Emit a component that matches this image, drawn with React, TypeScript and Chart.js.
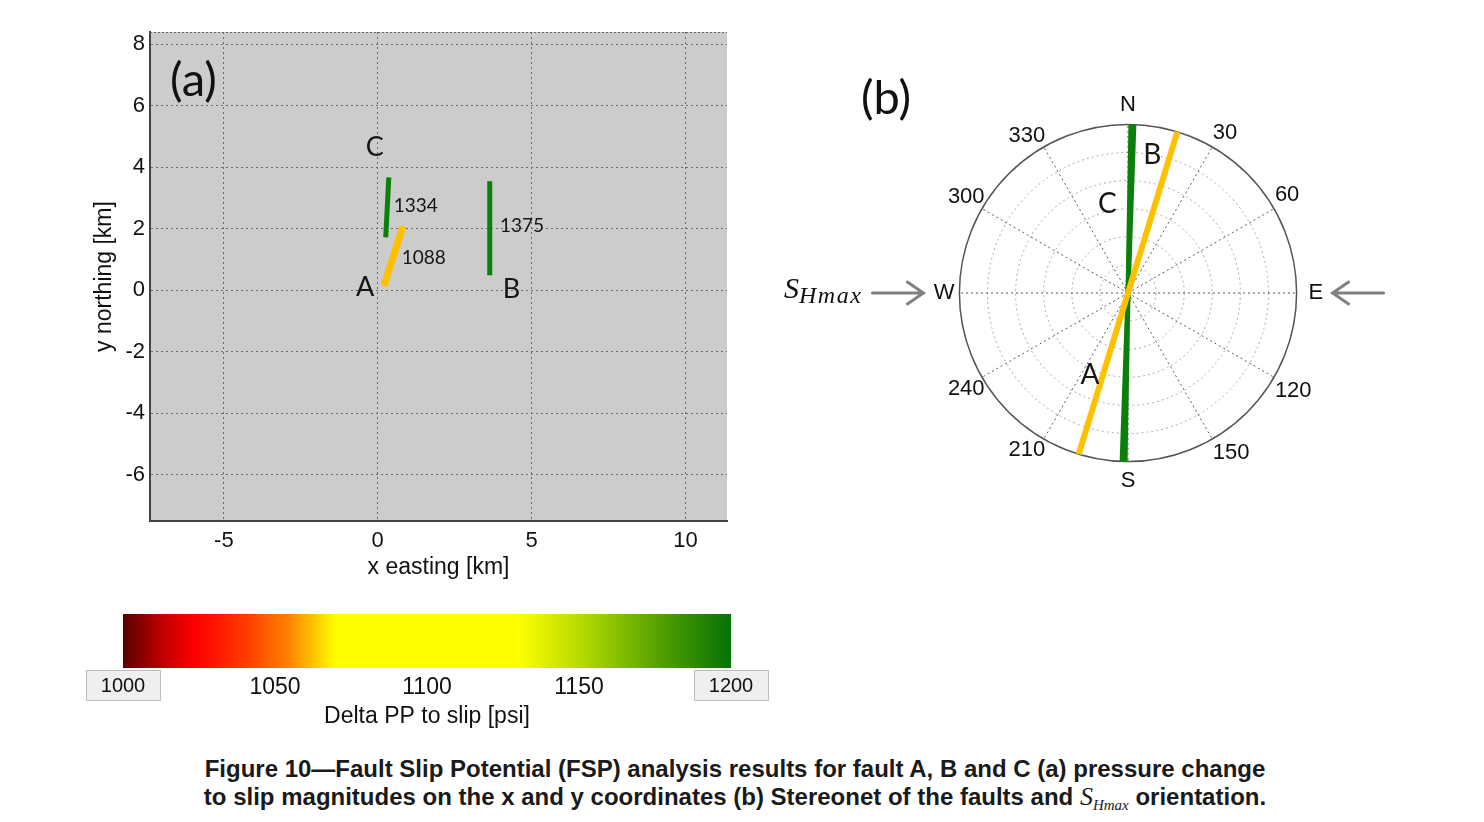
import React, { useEffect, useRef } from 'react';
import { Chart, registerables } from 'chart.js';

Chart.register(...registerables);

const SANS = '"Liberation Sans", Arial, Helvetica, sans-serif';
const CAL = 'Lato, "Open Sans", "Noto Sans", sans-serif';
const SERIF = '"Liberation Serif", "DejaVu Serif", serif';

// ---------- Panel (a): fault map ----------
const mapXRange = [-7.4, 11.35];
const mapYRange = [-7.5, 8.4];
const mapXStep = 5;
const mapYStep = 2;
const mapXTitle = 'x easting [km]';
const mapYTitle = 'y northing [km]';

const faultNames = ['A', 'B', 'C'];
const faultColors = ['#ffc000', '#0b7f0b', '#0b7f0b'];
const faultWidths = [7, 5, 5];
const faultAX = [0.2, 0.82];
const faultAY = [0.14, 2.08];
const faultBX = [3.64, 3.64];
const faultBY = [0.49, 3.55];
const faultCX = [0.26, 0.36];
const faultCY = [1.72, 3.67];

const mapLabelText = ['C', 'A', 'B', '1334', '1088', '1375'];
const mapLabelX = [-0.1, -0.41, 4.35, 0.52, 0.78, 3.97];
const mapLabelY = [4.65, 0.1, 0.03, 2.76, 1.07, 2.09];

// ---------- Panel (b): stereonet ----------
const polarTickLabels = ['N', '30', '60', 'E', '120', '150', 'S', '210', '240', 'W', '300', '330'];
const polarRings = 6;
const faultStrikes = [17, 1, 2]; // A, B, C (degrees from north)
const polarLabelText = ['B', 'C', 'A'];
const polarLabelAz = [10, 347, 205];
const polarLabelR = [5.0, 3.25, 3.2];

// ---------- Colorbar ----------
const cbRange = [1000, 1200];
const cbStep = 50;
const cbTitle = 'Delta PP to slip [psi]';
const cbStops: [number, string][] = [
  [0, '#5a0000'],
  [0.07, '#c80000'],
  [0.12, '#ff0000'],
  [0.2, '#ff3a00'],
  [0.27, '#ff8000'],
  [0.35, '#ffff00'],
  [0.65, '#ffff00'],
  [0.76, '#b0d800'],
  [0.88, '#55a200'],
  [1, '#057205'],
];

const mapPlugin = {
  id: 'mapDeco',
  beforeDraw(chart: any) {
    const { ctx, chartArea: ca } = chart;
    ctx.save();
    ctx.fillStyle = '#cccccc';
    ctx.fillRect(ca.left, ca.top, ca.right - ca.left, ca.bottom - ca.top);
    ctx.restore();
  },
  afterDraw(chart: any) {
    const { ctx, chartArea: ca } = chart;
    ctx.save();
    ctx.strokeStyle = '#666';
    ctx.lineWidth = 1;
    ctx.setLineDash([2, 2]);
    ctx.beginPath();
    ctx.moveTo(ca.left, ca.top + 0.5);
    ctx.lineTo(ca.right, ca.top + 0.5);
    ctx.stroke();
    ctx.setLineDash([]);
    const xs = chart.scales.x;
    const ys = chart.scales.y;
    ctx.fillStyle = '#151515';
    ctx.textBaseline = 'middle';
    mapLabelText.forEach((t, i) => {
      const isNum = /^\d+$/.test(t);
      ctx.font = isNum ? `19px ${CAL}` : `27px ${CAL}`;
      ctx.textAlign = isNum ? 'left' : 'center';
      ctx.fillText(t, xs.getPixelForValue(mapLabelX[i]), ys.getPixelForValue(mapLabelY[i]));
    });
    ctx.restore();
  },
};

const polarPlugin = {
  id: 'polarDeco',
  afterDraw(chart: any) {
    const { ctx } = chart;
    const r = chart.scales.r;
    const cx = r.xCenter;
    const cy = r.yCenter;
    const R = r.drawingArea;
    ctx.save();
    ctx.fillStyle = '#151515';
    ctx.font = `28px ${CAL}`;
    ctx.textAlign = 'center';
    ctx.textBaseline = 'middle';
    polarLabelText.forEach((t, i) => {
      const p = r.getPointPositionForValue(polarLabelAz[i], polarLabelR[i]);
      ctx.fillText(t, p.x, p.y);
    });
    // S_Hmax arrows
    ctx.strokeStyle = '#808080';
    ctx.lineWidth = 3;
    ctx.lineCap = 'round';
    const arrow = (tail: number, tip: number) => {
      const d = Math.sign(tip - tail);
      ctx.beginPath();
      ctx.moveTo(tail, cy);
      ctx.lineTo(tip, cy);
      ctx.moveTo(tip - d * 16, cy - 11);
      ctx.lineTo(tip, cy);
      ctx.lineTo(tip - d * 16, cy + 11);
      ctx.stroke();
    };
    arrow(cx - R - 87, cx - R - 36);
    arrow(cx + R + 87, cx + R + 36);
    ctx.restore();
  },
};

const cbPlugin = {
  id: 'cbBoxes',
  beforeDraw(chart: any) {
    const { ctx, chartArea: ca } = chart;
    const xs = chart.scales.x;
    ctx.save();
    ctx.fillStyle = '#efefef';
    ctx.strokeStyle = '#bdbdbd';
    ctx.lineWidth = 1;
    [cbRange[0], cbRange[1]].forEach((v) => {
      const px = xs.getPixelForValue(v);
      ctx.fillRect(px - 37, ca.bottom + 2, 74, 30);
      ctx.strokeRect(px - 37 + 0.5, ca.bottom + 2.5, 74, 30);
    });
    ctx.restore();
  },
};

export default function App() {
  const mapRef = useRef<HTMLCanvasElement>(null);
  const polarRef = useRef<HTMLCanvasElement>(null);
  const cbRef = useRef<HTMLCanvasElement>(null);

  useEffect(() => {
    const charts: Chart[] = [];
    const faultXs = [faultAX, faultBX, faultCX];
    const faultYs = [faultAY, faultBY, faultCY];

    charts.push(
      new Chart(mapRef.current as HTMLCanvasElement, {
        type: 'scatter',
        data: {
          datasets: faultNames.map((n, k) => ({
            label: n,
            data: faultXs[k].map((x, i) => ({ x, y: faultYs[k][i] })),
            showLine: true,
            borderColor: faultColors[k],
            backgroundColor: faultColors[k],
            borderWidth: faultWidths[k],
            pointRadius: 0,
            borderCapStyle: 'butt',
          })),
        },
        options: {
          responsive: false,
          animation: false,
          layout: { padding: { left: 90, top: 32, right: 33, bottom: 19 } },
          plugins: { legend: { display: false }, tooltip: { enabled: false } },
          scales: {
            x: {
              type: 'linear',
              min: mapXRange[0],
              max: mapXRange[1],
              afterFit: (s: any) => {
                s.height = 60;
              },
              ticks: { stepSize: mapXStep, includeBounds: false, padding: 7, color: '#111', font: { family: SANS, size: 22 } },
              grid: { color: '#6a6a6a', lineWidth: 1, drawTicks: false },
              border: { display: true, color: '#444', width: 2, dash: [2, 3] },
              title: { display: true, text: mapXTitle, color: '#111', font: { family: SANS, size: 23 }, padding: { top: 0, bottom: 0 } },
            },
            y: {
              type: 'linear',
              min: mapYRange[0],
              max: mapYRange[1],
              afterFit: (s: any) => {
                s.width = 60;
              },
              ticks: { stepSize: mapYStep, includeBounds: false, padding: 5, color: '#111', font: { family: SANS, size: 22 } },
              grid: { color: '#6a6a6a', lineWidth: 1, drawTicks: false },
              border: { display: true, color: '#444', width: 2, dash: [2, 3] },
              title: { display: true, text: mapYTitle, color: '#111', font: { family: SANS, size: 23 }, padding: { top: 1, bottom: 0 } },
            },
          },
        } as any,
        plugins: [mapPlugin],
      })
    );

    const azimuthDegrees = Array.from({ length: 360 }, (_, i) => i);
    charts.push(
      new Chart(polarRef.current as HTMLCanvasElement, {
        type: 'radar',
        data: {
          labels: azimuthDegrees,
          datasets: faultNames.map((n, k) => ({
            label: n,
            data: azimuthDegrees.map((a) =>
              a === faultStrikes[k] || a === (faultStrikes[k] + 180) % 360 ? polarRings : null
            ),
            borderColor: faultColors[k],
            backgroundColor: 'rgba(0,0,0,0)',
            borderWidth: k === 0 ? 6 : 5,
            pointRadius: 0,
            spanGaps: true,
            fill: false,
            tension: 0,
          })),
        },
        options: {
          responsive: false,
          animation: false,
          layout: { padding: 0 },
          plugins: { legend: { display: false }, tooltip: { enabled: false } },
          scales: {
            r: {
              min: 0,
              max: polarRings,
              startAngle: 0,
              ticks: { display: false, stepSize: 1 },
              grid: {
                circular: true,
                color: (c: any) => (c.index === polarRings ? '#555' : '#a8a8a8'),
                lineWidth: (c: any) => (c.index === polarRings ? 1.5 : 1),
              },
              border: { dash: (c: any) => (c.index === polarRings ? [] : [2, 3]) },
              angleLines: {
                color: (c: any) => (c.index % 30 === 0 ? '#5a5a5a' : 'rgba(0,0,0,0)'),
                lineWidth: (c: any) => (c.index % 30 === 0 ? 1 : 0),
                borderDash: [2, 3],
              },
              pointLabels: {
                callback: (_l: any, i: number) => (i % 30 === 0 ? polarTickLabels[i / 30] : ''),
                color: '#111',
                font: (c: any) => ({ family: SANS, size: 22 }),
                padding: (c: any) => {
                  const i = c.index;
                  if (i === 0 || i === 180) return 6;
                  if (i === 90) return 12;
                  if (i === 270) return 5;
                  if (i % 30 === 0 && (i > 180)) return -3;
                  return 1;
                },
              },
            },
          },
        } as any,
        plugins: [polarPlugin],
      })
    );

    charts.push(
      new Chart(cbRef.current as HTMLCanvasElement, {
        type: 'bar',
        data: {
          labels: [''],
          datasets: [
            {
              data: [[cbRange[0], cbRange[1]]],
              backgroundColor: (c: any) => {
                const ch = c.chart;
                const ca = ch.chartArea;
                if (!ca) return '#ffff00';
                const g = ch.ctx.createLinearGradient(ca.left, 0, ca.right, 0);
                cbStops.forEach(([o, col]) => g.addColorStop(o, col));
                return g;
              },
              borderWidth: 0,
              barPercentage: 1,
              categoryPercentage: 1,
            },
          ],
        },
        options: {
          indexAxis: 'y',
          responsive: false,
          animation: false,
          layout: { padding: { left: 63, right: 89, top: 14, bottom: 10 } },
          plugins: { legend: { display: false }, tooltip: { enabled: false } },
          scales: {
            x: {
              type: 'linear',
              min: cbRange[0],
              max: cbRange[1],
              afterFit: (s: any) => {
                s.height = 62;
              },
              ticks: {
                stepSize: cbStep,
                padding: 6,
                color: '#111',
                callback: (v: any) => String(v),
                font: (c: any) => ({
                  family: SANS,
                  size: c.tick && (c.tick.value === cbRange[0] || c.tick.value === cbRange[1]) ? 20 : 23,
                }),
              },
              grid: { display: false, drawTicks: false },
              border: { display: false },
              title: { display: true, text: cbTitle, color: '#111', font: { family: SANS, size: 23 }, padding: { top: 0, bottom: 0 } },
            },
            y: { display: false },
          },
        } as any,
        plugins: [cbPlugin],
      })
    );

    return () => charts.forEach((c) => c.destroy());
  }, []);

  return (
    <div style={{ position: 'fixed', left: 0, top: 0, width: 1484, height: 822, background: '#fff', overflow: 'hidden' }}>
      <canvas ref={mapRef} width={760} height={600} style={{ position: 'absolute', left: 0, top: 0 }} />
      <canvas ref={polarRef} width={704} height={402} style={{ position: 'absolute', left: 776, top: 92 }} />
      <canvas ref={cbRef} width={760} height={140} style={{ position: 'absolute', left: 60, top: 600 }} />
      <div style={{ position: 'absolute', left: 170, top: 53, font: `47px ${CAL}`, lineHeight: '50px', color: '#111' }}>(a)</div>
      <div style={{ position: 'absolute', left: 861, top: 71, font: `47px ${CAL}`, lineHeight: '50px', color: '#111' }}>(b)</div>
      <div style={{ position: 'absolute', left: 784, top: 272, fontFamily: SERIF, fontStyle: 'italic', color: '#111', whiteSpace: 'nowrap', lineHeight: '32px' }}>
        <span style={{ fontSize: 30 }}>S</span>
        <span style={{ fontSize: 24, position: 'relative', top: 5, letterSpacing: 1.5 }}>Hmax</span>
      </div>
      <div
        style={{
          position: 'absolute',
          left: 0,
          top: 755,
          width: 1470,
          textAlign: 'center',
          fontFamily: '"Liberation Sans Narrow", "Arial Narrow", "Liberation Sans", Arial, sans-serif',
          fontWeight: 'bold',
          fontSize: 24,
          lineHeight: '28px',
          color: '#1a1a1a',
          whiteSpace: 'nowrap',
        }}
      >
        Figure 10—Fault Slip Potential (FSP) analysis results for fault A, B and C (a) pressure change
        <br />
        to slip magnitudes on the x and y coordinates (b) Stereonet of the faults and{' '}
        <span style={{ fontFamily: SERIF, fontStyle: 'italic', fontWeight: 'normal', fontSize: 26 }}>S</span>
        <span style={{ fontFamily: SERIF, fontStyle: 'italic', fontWeight: 'normal', fontSize: 15, position: 'relative', top: 5 }}>Hmax</span>{' '}
        orientation.
      </div>
    </div>
  );
}
